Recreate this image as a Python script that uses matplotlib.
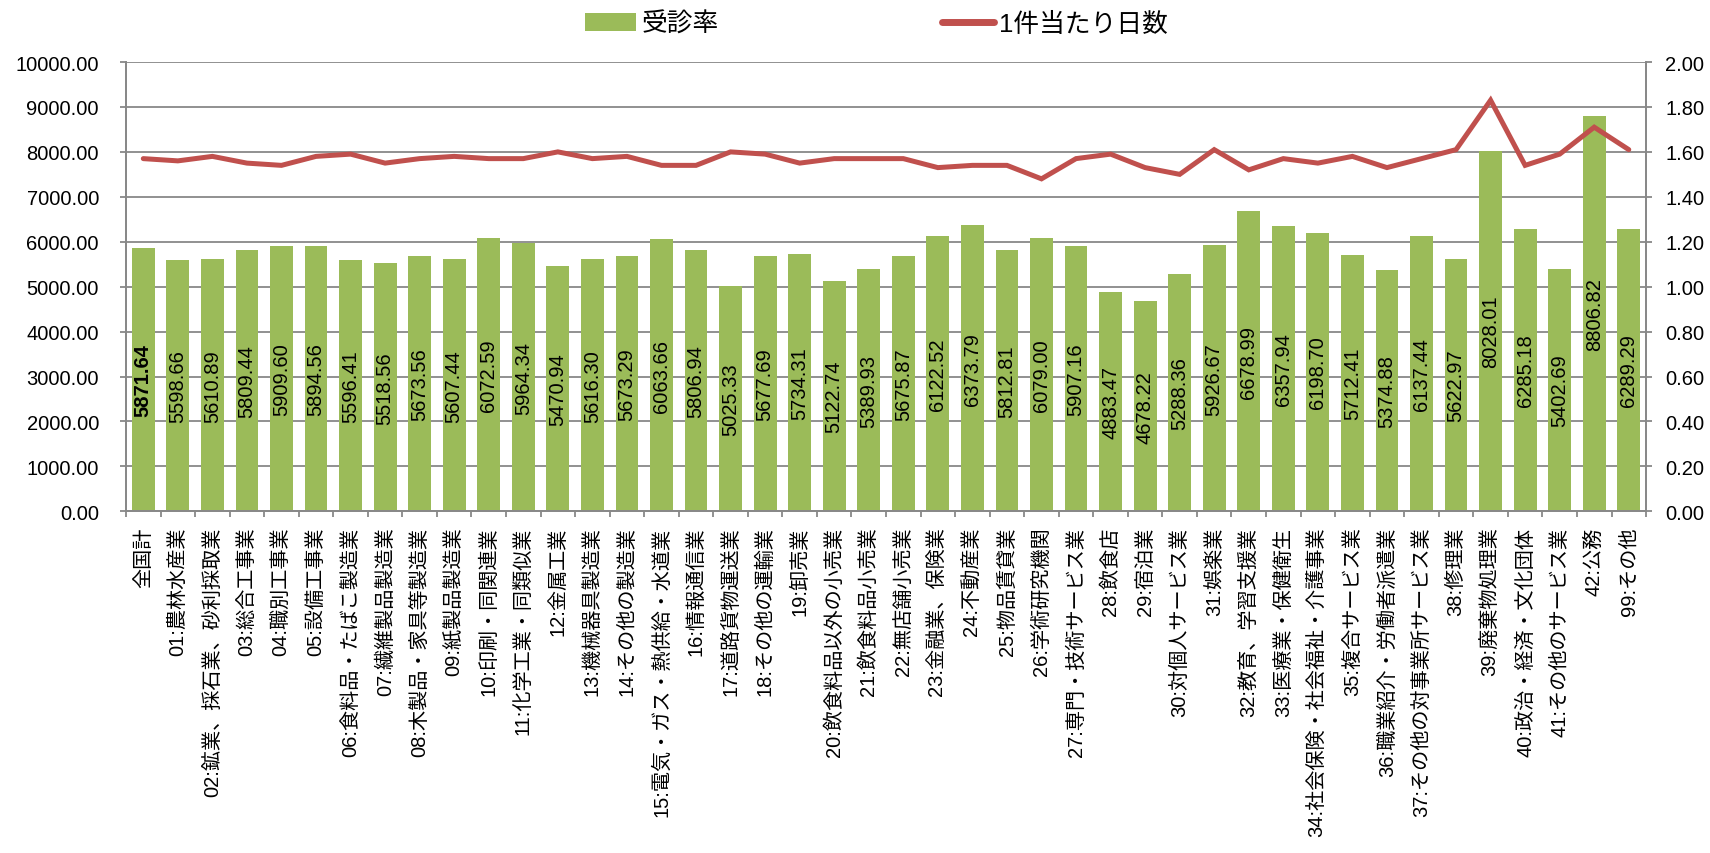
import matplotlib
matplotlib.use('Agg')
import matplotlib.pyplot as plt
from matplotlib.patches import Patch
from matplotlib.lines import Line2D
from matplotlib.ticker import MultipleLocator, FormatStrFormatter
import numpy as np

plt.rcParams['font.family'] = ['Liberation Sans', 'Noto Sans CJK JP', 'DejaVu Sans']

categories = [
	'全国計', '01:農林水産業', '02:鉱業、採石業、砂利採取業', '03:総合工事業', '04:職別工事業',
	'05:設備工事業', '06:食料品・たばこ製造業', '07:繊維製品製造業', '08:木製品・家具等製造業',
	'09:紙製品製造業', '10:印刷・同関連業', '11:化学工業・同類似業', '12:金属工業',
	'13:機械器具製造業', '14:その他の製造業', '15:電気・ガス・熱供給・水道業', '16:情報通信業',
	'17:道路貨物運送業', '18:その他の運輸業', '19:卸売業', '20:飲食料品以外の小売業',
	'21:飲食料品小売業', '22:無店舗小売業', '23:金融業、保険業', '24:不動産業', '25:物品賃貸業',
	'26:学術研究機関', '27:専門・技術サービス業', '28:飲食店', '29:宿泊業', '30:対個人サービス業',
	'31:娯楽業', '32:教育、学習支援業', '33:医療業・保健衛生', '34:社会保険・社会福祉・介護事業',
	'35:複合サービス業', '36:職業紹介・労働者派遣業', '37:その他の対事業所サービス業', '38:修理業',
	'39:廃棄物処理業', '40:政治・経済・文化団体', '41:その他のサービス業', '42:公務', '99:その他',
]

# 受診率 (left axis)
visit_rate = [
	5871.64, 5598.66, 5610.89, 5809.44, 5909.60, 5894.56, 5596.41, 5518.56, 5673.56, 5607.44,
	6072.59, 5964.34, 5470.94, 5616.30, 5673.29, 6063.66, 5806.94, 5025.33, 5677.69, 5734.31,
	5122.74, 5389.93, 5675.87, 6122.52, 6373.79, 5812.81, 6079.00, 5907.16, 4883.47, 4678.22,
	5288.36, 5926.67, 6678.99, 6357.94, 6198.70, 5712.41, 5374.88, 6137.44, 5622.97, 8028.01,
	6285.18, 5402.69, 8806.82, 6289.29,
]

# 1件当たり日数 (right axis)
days_per_case = [
	1.57, 1.56, 1.58, 1.55, 1.54, 1.58, 1.59, 1.55, 1.57, 1.58,
	1.57, 1.57, 1.60, 1.57, 1.58, 1.54, 1.54, 1.60, 1.59, 1.55,
	1.57, 1.57, 1.57, 1.53, 1.54, 1.54, 1.48, 1.57, 1.59, 1.53,
	1.50, 1.61, 1.52, 1.57, 1.55, 1.58, 1.53, 1.57, 1.61, 1.83,
	1.54, 1.59, 1.71, 1.61,
]

GREEN = '#9BBB59'
RED = '#C0504D'
GRID = '#888888'
FS = 14.5

fig = plt.figure(figsize=(17.1, 8.54), dpi=100)
ax = fig.add_axes([0.0737, 0.4001, 0.8889, 0.5261])
ax2 = ax.twinx()

x = np.arange(len(categories))

#bars and their labels
ax.bar(x, visit_rate, width=0.66, color=GREEN, zorder=2)
for i, v in enumerate(visit_rate):
	ax.text(i, v / 2, '%.2f' % v, rotation=90, ha='center', va='center',
		fontsize=FS, fontweight='bold' if i == 0 else 'normal', zorder=3)

#line on the secondary axis
ax2.plot(x, days_per_case, color=RED, lw=3.6, solid_capstyle='round', solid_joinstyle='miter', zorder=4)

# axes setup
ax.set_xlim(-0.5, len(categories) - 0.5)
ax.set_ylim(0, 10000)
ax2.set_ylim(0, 2.0)
ax.yaxis.set_major_locator(MultipleLocator(1000))
ax.yaxis.set_major_formatter(FormatStrFormatter('%.2f'))
ax2.yaxis.set_major_locator(MultipleLocator(0.2))
ax2.yaxis.set_major_formatter(FormatStrFormatter('%.2f'))
ax.grid(axis='y', color=GRID, lw=1.3, zorder=0)
ax.set_axisbelow(True)

ax.set_xticks(x)
ax.set_xticklabels(categories, rotation=90, fontsize=FS)
ax.set_xticks(np.arange(-0.5, len(categories)), minor=True)
ax.tick_params(axis='x', which='major', length=0, pad=11)
ax.tick_params(axis='x', which='minor', length=4.5, width=1.3, color=GRID, direction='out')
ax.tick_params(axis='y', length=4.5, width=1.3, color=GRID, pad=15, labelsize=FS)
ax2.tick_params(axis='y', length=4, width=1.3, color=GRID, pad=10, labelsize=FS)

for a in (ax, ax2):
	for side in ('left', 'right', 'bottom'):
		a.spines[side].set_color(GRID)
		a.spines[side].set_linewidth(1.3)
	a.spines['top'].set_visible(False)

# legend at the top
handles = [
	Patch(facecolor=GREEN, edgecolor='none', label='受診率'),
	Line2D([0], [0], color=RED, lw=5, solid_capstyle='round', label='1件当たり日数'),
]
fig.legend(handles=handles, loc='center', bbox_to_anchor=(0.5125, 0.971), ncol=2, frameon=False,
	fontsize=18.5, handlelength=2.0, handletextpad=0.2, columnspacing=8.7, borderpad=0)

fig.savefig('out.png', dpi=100)
